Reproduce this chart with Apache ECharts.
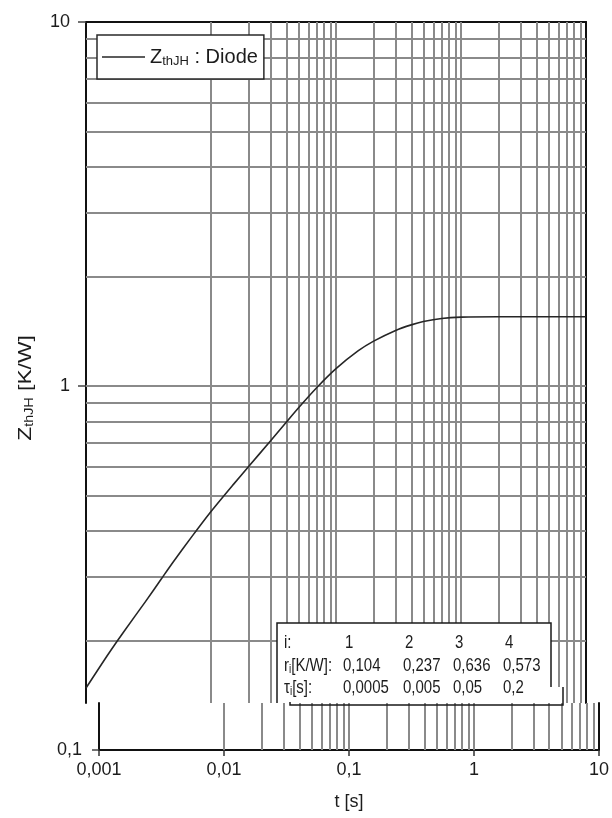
<!DOCTYPE html>
<html>
<head>
<meta charset="utf-8">
<script src="https://cdn.jsdelivr.net/npm/echarts@6/dist/echarts.min.js"></script>
<style>
html,body{margin:0;padding:0;background:#fff;}
#chart{width:612px;height:818px;}
</style>
</head>
<body>
<div id="chart"></div>
<script>
// ---- data ----
const tValues = [0.001, 0.0015, 0.002, 0.003, 0.004, 0.005, 0.007, 0.01, 0.015, 0.02, 0.03, 0.04, 0.05, 0.07, 0.1, 0.15, 0.2, 0.3, 0.4, 0.5, 0.7, 1, 2, 5, 10];
const zValues = [0.148, 0.183, 0.211, 0.256, 0.295, 0.329, 0.385, 0.452, 0.535, 0.601, 0.707, 0.795, 0.870, 0.989, 1.116, 1.248, 1.328, 1.421, 1.472, 1.503, 1.533, 1.546, 1.550, 1.550, 1.550];

const xTickValues = [0.001, 0.01, 0.1, 1, 10];
const xTickLabels = ['0,001', '0,01', '0,1', '1', '10'];
const yTickValues = [0.1, 1, 10];
const yTickLabels = ['0,1', '1', '10'];

const xGridValues = [0.002,0.003,0.004,0.005,0.006,0.007,0.008,0.009,0.01,
                     0.02,0.03,0.04,0.05,0.06,0.07,0.08,0.09,0.1,
                     0.2,0.3,0.4,0.5,0.6,0.7,0.8,0.9,1,
                     2,3,4,5,6,7,8,9];
const yGridValues = [0.2,0.3,0.4,0.5,0.6,0.7,0.8,0.9,1,2,3,4,5,6,7,8,9];

const tableRowLabels = ['{n|i:}', '{n|r}{s|i}{n|[K/W]:}', '{n|τ}{s|i}{n|[s]:}'];
const tableIndex = ['1', '2', '3', '4'];
const tableR = ['0,104', '0,237', '0,636', '0,573'];
const tableTau = ['0,0005', '0,005', '0,05', '0,2'];

// split between the upper scan strip and the (shifted) lower strip
const Y_SPLIT = 0.1346;

const FONT = 'Liberation Sans, Arial, sans-serif';
const TXT = '#1c1c1c';
const GRIDC = '#8a8a8a';

function fmt(values, labels) {
  return function (v) {
    for (let i = 0; i < values.length; i++) {
      if (Math.abs(Math.log10(v) - Math.log10(values[i])) < 1e-6) return labels[i];
    }
    return '';
  };
}

const gridLines = {
  silent: true,
  symbol: ['none', 'none'],
  label: { show: false },
  lineStyle: { color: GRIDC, width: 2, type: 'solid' },
  emphasis: { disabled: true },
  animation: false
};

const chart = echarts.init(document.getElementById('chart'), null, { renderer: 'canvas' });

const tableChildren = [];
const rowY = [643, 666, 688];
const colX = [343, 403, 453, 503];
const rich = {
  n: { fontSize: 15, fontFamily: FONT, fill: TXT },
  s: { fontSize: 10, fontFamily: FONT, fill: TXT, padding: [6, 0, 0, 0] }
};
tableRowLabels.forEach((t, i) => {
  tableChildren.push({ type: 'text', x: 284, y: rowY[i], z: 60, scaleY: 1.2,
    style: { text: t, rich: rich, verticalAlign: 'middle', align: 'left' } });
});
[tableIndex, tableR, tableTau].forEach((row, r) => {
  row.forEach((t, c) => {
    tableChildren.push({ type: 'text', x: colX[c] + (r === 0 ? 2 : 0), y: rowY[r], z: 60, scaleY: 1.2,
      style: { text: t, fontSize: 15, fontFamily: FONT, fill: TXT, verticalAlign: 'middle', align: 'left' } });
  });
});

const option = {
  animation: false,
  backgroundColor: '#ffffff',
  textStyle: { fontFamily: FONT },
  grid: [
    { left: 86, top: 22, width: 500, height: 681 },
    { left: 99, top: 703, width: 501, height: 47 }
  ],
  legend: {
    left: 97, top: 35, z: 20,
    padding: [11, 6, 11, 5],
    backgroundColor: '#ffffff',
    borderColor: '#2a2a2a', borderWidth: 1.5, borderRadius: 0,
    itemWidth: 43, itemHeight: 1.6,
    icon: 'rect',
    itemStyle: { color: '#262626', borderWidth: 0 },
    data: ['Z'],
    formatter: function () { return '{z|Z}{s|thJH}{z| : Diode}'; },
    textStyle: {
      color: TXT,
      rich: {
        z: { fontSize: 20, fontFamily: FONT, color: TXT, lineHeight: 24 },
        s: { fontSize: 13, fontFamily: FONT, color: TXT, lineHeight: 24, padding: [9, 0, 0, 0] }
      }
    }
  },
  xAxis: [
    { type: 'log', gridIndex: 0, min: 0.001, max: 10, position: 'top',
      axisLine: { show: true, lineStyle: { color: '#111', width: 2 } },
      axisTick: { show: false }, axisLabel: { show: false },
      splitLine: { show: false }, minorTick: { show: false }, minorSplitLine: { show: false } },
    { type: 'log', gridIndex: 1, min: 0.001, max: 10, position: 'bottom',
      axisLine: { show: true, lineStyle: { color: '#111', width: 2 } },
      axisTick: { show: true, length: 6, customValues: xTickValues, lineStyle: { color: '#333', width: 1.5 } },
      axisLabel: { show: true, customValues: xTickValues, formatter: fmt(xTickValues, xTickLabels),
        margin: 11, fontSize: 18, fontFamily: FONT, color: TXT },
      splitLine: { show: false }, minorTick: { show: false }, minorSplitLine: { show: false },
      name: 't [s]', nameLocation: 'middle', nameGap: 43,
      nameTextStyle: { fontSize: 18, fontFamily: FONT, color: TXT } }
  ],
  yAxis: [
    { type: 'log', gridIndex: 0, min: Y_SPLIT, max: 10, position: 'left',
      axisLine: { show: true, lineStyle: { color: '#111', width: 2 } },
      axisTick: { show: true, length: 8, customValues: [1, 10], lineStyle: { color: '#444', width: 1.5 } },
      axisLabel: { show: true, customValues: [1, 10], formatter: fmt(yTickValues, yTickLabels),
        margin: 16, fontSize: 18, fontFamily: FONT, color: TXT },
      splitLine: { show: false }, minorTick: { show: false }, minorSplitLine: { show: false } },
    { type: 'log', gridIndex: 0, min: Y_SPLIT, max: 10, position: 'right',
      axisLine: { show: true, lineStyle: { color: '#111', width: 2 } },
      axisTick: { show: false }, axisLabel: { show: false }, splitLine: { show: false } },
    { type: 'log', gridIndex: 1, min: 0.1, max: Y_SPLIT, position: 'left',
      axisLine: { show: true, lineStyle: { color: '#111', width: 2 } },
      axisTick: { show: true, length: 7, customValues: [0.1], lineStyle: { color: '#444', width: 1.5 } },
      axisLabel: { show: true, customValues: [0.1], formatter: fmt(yTickValues, yTickLabels),
        margin: 17, fontSize: 18, fontFamily: FONT, color: TXT },
      splitLine: { show: false }, minorTick: { show: false }, minorSplitLine: { show: false } },
    { type: 'log', gridIndex: 1, min: 0.1, max: Y_SPLIT, position: 'right',
      axisLine: { show: true, lineStyle: { color: '#111', width: 2 } },
      axisTick: { show: false }, axisLabel: { show: false }, splitLine: { show: false } }
  ],
  series: [
    { name: 'gridA', type: 'line', xAxisIndex: 0, yAxisIndex: 0,
      data: [[0.001, 0.2]], showSymbol: false, lineStyle: { opacity: 0 }, silent: true,
      markLine: Object.assign({}, gridLines, {
        data: xGridValues.map(v => ({ xAxis: v })).concat(yGridValues.map(v => ({ yAxis: v })))
      }) },
    { name: 'gridB', type: 'line', xAxisIndex: 1, yAxisIndex: 2,
      data: [[0.001, 0.11]], showSymbol: false, lineStyle: { opacity: 0 }, silent: true,
      markLine: Object.assign({}, gridLines, {
        data: xGridValues.map(v => ({ xAxis: v }))
      }) },
    { name: 'Z', type: 'line', xAxisIndex: 0, yAxisIndex: 0, z: 10,
      data: tValues.map((t, i) => [t, zValues[i]]),
      showSymbol: false, symbol: 'none', smooth: 0.25,
      lineStyle: { color: '#262626', width: 1.6 },
      itemStyle: { color: '#262626' } }
  ],
  graphic: [
    { type: 'text', x: 26, y: 388, rotation: Math.PI / 2, scaleX: 1.2, z: 60,
      style: { text: '{z|Z}{s|thJH}{z| [K/W]}', align: 'center', verticalAlign: 'middle',
        rich: {
          z: { fontSize: 19, fontFamily: FONT, fill: TXT },
          s: { fontSize: 12, fontFamily: FONT, fill: TXT, padding: [7, 0, 0, 0] }
        } } },
    { type: 'rect', z: 50, shape: { x: 277, y: 623, width: 274, height: 80 }, style: { fill: '#ffffff' } },
    { type: 'rect', z: 50, shape: { x: 500, y: 687, width: 63, height: 16 }, style: { fill: '#ffffff' } },
    { type: 'polyline', z: 55, shape: { points: [[277, 703], [277, 623], [551, 623], [551, 687]] },
      style: { stroke: '#1a1a1a', lineWidth: 1.5, fill: null } },
    { type: 'polyline', z: 55, shape: { points: [[563, 687], [563, 705], [290, 705], [290, 702]] },
      style: { stroke: '#1a1a1a', lineWidth: 1.5, fill: null } },
    { type: 'group', z: 60, children: tableChildren }
  ]
};
chart.setOption(option);
</script>
</body>
</html>
